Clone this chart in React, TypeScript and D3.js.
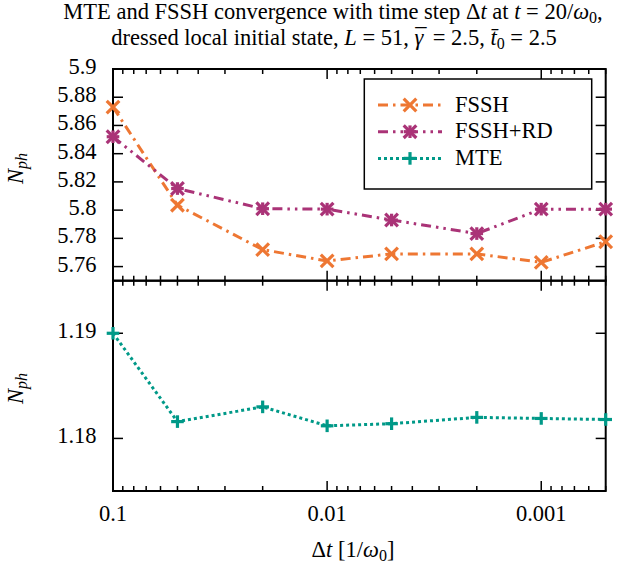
import React from "react";
import * as d3 from "d3";

const dts = [0.1, 0.05, 0.02, 0.01, 0.005, 0.002, 0.001, 0.0005];
const fssh = [5.873, 5.8035, 5.772, 5.764, 5.769, 5.769, 5.763, 5.7776];
const fsshRd = [5.852, 5.8153, 5.801, 5.8007, 5.793, 5.7834, 5.8007, 5.8007];
const mte = [1.19, 1.1816, 1.183, 1.1812, 1.1814, 1.182, 1.1819, 1.1818];
const upperTicks = [5.76, 5.78, 5.8, 5.82, 5.84, 5.86, 5.88, 5.9];
const lowerTicks = [1.18, 1.19];
const xLabelTicks = [0.1, 0.01, 0.001];
const seriesNames = ["FSSH", "FSSH+RD", "MTE"];

const W = 634, H = 568;
const L = 113, R = 605.7, T = 69, MID = 280.7, B = 491;
const ORANGE = "#EE7733", PURPLE = "#AA3377", TEAL = "#009988";
const FONT = "'Liberation Serif', 'DejaVu Serif', serif";
const FS = 22.5;
const SUB = 16;

const x = d3.scaleLog().domain([0.1, 0.0005]).range([L, R]);
const yU = d3.scaleLinear().domain([5.75, 5.9]).range([MID, T]);
const yL = d3.scaleLinear().domain([1.175, 1.195]).range([B, MID]);

function Marker({ kind, cx, cy, color }: { kind: string; cx: number; cy: number; color: string }) {
  const s = 6.3;
  const sw = 3.2;
  if (kind === "x")
    return (
      <g stroke={color} strokeWidth={sw}>
        <line x1={cx - s} y1={cy - s} x2={cx + s} y2={cy + s} />
        <line x1={cx - s} y1={cy + s} x2={cx + s} y2={cy - s} />
      </g>
    );
  if (kind === "star")
    return (
      <g stroke={color} strokeWidth={sw}>
        <line x1={cx - s} y1={cy - s} x2={cx + s} y2={cy + s} />
        <line x1={cx - s} y1={cy + s} x2={cx + s} y2={cy - s} />
        <line x1={cx - s} y1={cy} x2={cx + s} y2={cy} />
        <line x1={cx} y1={cy - s} x2={cx} y2={cy + s} />
      </g>
    );
  return (
    <g stroke={color} strokeWidth={sw}>
      <line x1={cx - s} y1={cy} x2={cx + s} y2={cy} />
      <line x1={cx} y1={cy - s} x2={cx} y2={cy + s} />
    </g>
  );
}

export default function App() {
  const xt = x.ticks();
  const isMajor = (v: number) => Math.abs(Math.log10(v) - Math.round(Math.log10(v))) < 1e-6;

  const lineU = d3
    .line<number>()
    .x((_, i) => x(dts[i]))
    .y((d) => yU(d));
  const lineL = d3
    .line<number>()
    .x((_, i) => x(dts[i]))
    .y((d) => yL(d));

  const series = [
    { name: seriesNames[0], vals: fssh, color: ORANGE, dash: "10 5 2.5 5", kind: "x" },
    { name: seriesNames[1], vals: fsshRd, color: PURPLE, dash: "10 5 2.5 5 2.5 5", kind: "star" },
  ];

  const xTickLines = (yBase: number, dir: number) =>
    xt.map((v, i) => {
      const len = isMajor(v) ? 10 : 5;
      return <line key={i} x1={x(v)} x2={x(v)} y1={yBase} y2={yBase + dir * len} stroke="#000" strokeWidth={1.5} />;
    });

  return (
    <svg
      width={W}
      height={H}
      style={{ position: "absolute", left: 0, top: 0, background: "#fff" }}
      fontFamily={FONT}
    >
      <rect width={W} height={H} fill="#fff" />
      {/* Title */}
      <text x={333} y={19} fontSize={FS} textAnchor="middle" fontFamily={FONT}>
        MTE and FSSH convergence with time step Δ<tspan fontStyle="italic">t</tspan> at{" "}
        <tspan fontStyle="italic">t</tspan> = 20/<tspan fontStyle="italic">ω</tspan>
        <tspan fontSize={SUB} dy={4}>0</tspan>
        <tspan dy={-4}>,</tspan>
      </text>
      <text x={334} y={44.5} fontSize={FS} textAnchor="middle" fontFamily={FONT}>
        dressed local initial state, <tspan fontStyle="italic">L</tspan> = 51,{" "}
        <tspan fontStyle="italic">γ</tspan>
        <tspan dx={-8}>¯</tspan>
        <tspan dx={0.5}> = 2.5, </tspan>
        <tspan fontStyle="italic">t̄</tspan>
        <tspan fontSize={SUB} dy={4}>0</tspan>
        <tspan dy={-4}> = 2.5</tspan>
      </text>

      {/* Upper panel ticks */}
      {upperTicks.map((v, i) => (
        <g key={"u" + i}>
          <line x1={L} x2={L + 10} y1={yU(v)} y2={yU(v)} stroke="#000" strokeWidth={1.5} />
          <line x1={R} x2={R - 10} y1={yU(v)} y2={yU(v)} stroke="#000" strokeWidth={1.5} />
          <text x={96.5} y={yU(v) + 5} fontSize={FS} textAnchor="end" fontFamily={FONT}>
            {d3.format("~g")(v)}
          </text>
        </g>
      ))}
      {lowerTicks.map((v, i) => (
        <g key={"l" + i}>
          <line x1={L} x2={L + 10} y1={yL(v)} y2={yL(v)} stroke="#000" strokeWidth={1.5} />
          <line x1={R} x2={R - 10} y1={yL(v)} y2={yL(v)} stroke="#000" strokeWidth={1.5} />
          <text x={96.5} y={yL(v) + 5} fontSize={FS} textAnchor="end" fontFamily={FONT}>
            {d3.format("~g")(v)}
          </text>
        </g>
      ))}
      {xTickLines(T, 1)}
      {xTickLines(MID, -1)}
      {xTickLines(MID, 1)}
      {xTickLines(B, -1)}
      {xLabelTicks.map((v, i) => (
        <text key={"xl" + i} x={x(v)} y={521} fontSize={FS} textAnchor="middle" fontFamily={FONT}>
          {d3.format("~g")(v)}
        </text>
      ))}

      {/* Frames */}
      <rect x={L} y={T} width={R - L} height={MID - T} fill="none" stroke="#000" strokeWidth={2} />
      <rect x={L} y={MID} width={R - L} height={B - MID} fill="none" stroke="#000" strokeWidth={2} />

      {/* Axis titles */}
      <text transform="translate(23,168.5) rotate(-90)" fontSize={FS} textAnchor="middle" fontFamily={FONT}>
        <tspan fontStyle="italic">N</tspan>
        <tspan fontStyle="italic" fontSize={SUB} dy={4}>ph</tspan>
      </text>
      <text transform="translate(23,388.5) rotate(-90)" fontSize={FS} textAnchor="middle" fontFamily={FONT}>
        <tspan fontStyle="italic">N</tspan>
        <tspan fontStyle="italic" fontSize={SUB} dy={4}>ph</tspan>
      </text>
      <text x={353} y={557} fontSize={FS} textAnchor="middle" fontFamily={FONT}>
        Δ<tspan fontStyle="italic">t</tspan> [1/<tspan fontStyle="italic">ω</tspan>
        <tspan fontSize={SUB} dy={4}>0</tspan>
        <tspan dy={-4}>]</tspan>
      </text>

      {/* Upper series */}
      {series.map((s) => (
        <g key={s.name}>
          <path d={lineU(s.vals) || ""} fill="none" stroke={s.color} strokeWidth={3} strokeDasharray={s.dash} />
          {s.vals.map((v, i) => (
            <Marker key={i} kind={s.kind} cx={x(dts[i])} cy={yU(v)} color={s.color} />
          ))}
        </g>
      ))}

      {/* Lower series */}
      <path d={lineL(mte) || ""} fill="none" stroke={TEAL} strokeWidth={3} strokeDasharray="3 3" />
      {mte.map((v, i) => (
        <Marker key={i} kind="plus" cx={x(dts[i])} cy={yL(v)} color={TEAL} />
      ))}

      {/* Legend */}
      <rect x={364.3} y={79} width={227.4} height={110} fill="#fff" stroke="#000" strokeWidth={1.5} />
      {[
        { name: seriesNames[0], color: ORANGE, dash: "10 5 2.5 5", kind: "x" },
        { name: seriesNames[1], color: PURPLE, dash: "10 5 2.5 5 2.5 5", kind: "star" },
        { name: seriesNames[2], color: TEAL, dash: "3 3", kind: "plus" },
      ].map((e, i) => {
        const yy = 105 + i * 26.7;
        return (
          <g key={e.name}>
            <line x1={378} x2={442} y1={yy} y2={yy} stroke={e.color} strokeWidth={3} strokeDasharray={e.dash} />
            <Marker kind={e.kind} cx={410} cy={yy} color={e.color} />
            <text x={455} y={yy + 6.5} fontSize={FS} fontFamily={FONT}>
              {e.name}
            </text>
          </g>
        );
      })}
    </svg>
  );
}
